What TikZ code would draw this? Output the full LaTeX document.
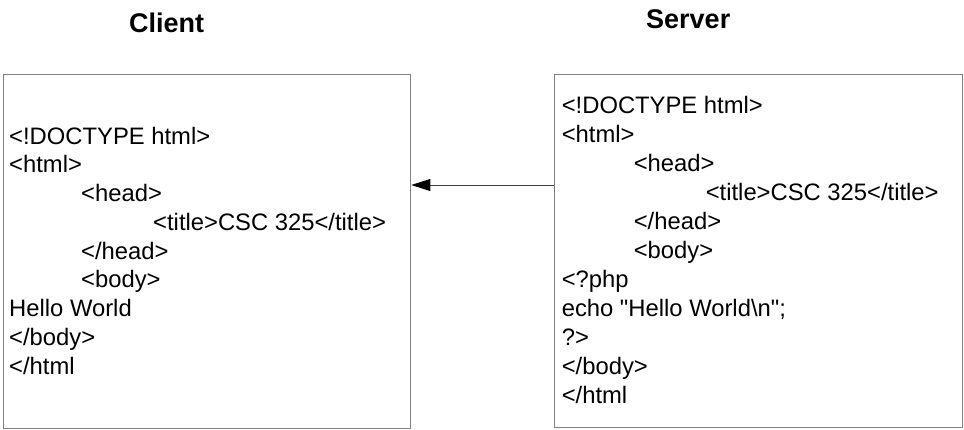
\documentclass[tikz,border=0pt]{standalone}
\usepackage{fontspec}
\setmainfont{Liberation Sans}
\setmonofont{Liberation Sans}
\usetikzlibrary{arrows.meta}
\begin{document}
\begin{tikzpicture}[x=1pt,y=-1pt,
  box/.style={draw=black!50, line width=1.3pt, inner sep=0, anchor=north west},
  code/.style={anchor=base west, inner sep=0, font=\ttfamily\fontsize{23.8}{28}\selectfont},
  ttl/.style={anchor=base west, inner sep=0, font=\fontsize{27}{30}\selectfont\bfseries},
  arr/.style={-{Triangle[length=19pt,width=12pt,color=black]}, line width=1pt, draw=black!75}]
\useasboundingbox (0,0) rectangle (964,429);
% boxes
\node[box, minimum width=407.5pt, minimum height=353.5pt] (client) at (2.5,74) {};
\node[box, minimum width=408.5pt, minimum height=353pt] (server) at (553.5,74) {};
% titles
\node[ttl] (tclient) at (129,32) {Client};
\node[ttl] (tserver) at (646,28) {Server};
% client code
\node[code] (c1) at (9,144) {<!DOCTYPE html>};
\node[code] (c2) at (9,172.75) {<html>};
\node[code] (c3) at (81,201.5) {<head>};
\node[code] (c4) at (153,230.25) {<title>CSC 325</title>};
\node[code] (c5) at (81,259) {</head>};
\node[code] (c6) at (81,287.75) {<body>};
\node[code] (c7) at (9,316.5) {Hello World};
\node[code] (c8) at (9,345.25) {</body>};
\node[code] (c9) at (9,374) {</html};
% server code
\node[code] (s1) at (561.6,113) {<!DOCTYPE html>};
\node[code] (s2) at (561.6,142) {<html>};
\node[code] (s3) at (633.6,171) {<head>};
\node[code] (s4) at (705.6,200) {<title>CSC 325</title>};
\node[code] (s5) at (633.6,229) {</head>};
\node[code] (s6) at (633.6,258) {<body>};
\node[code] (s7) at (561.6,287) {<?php};
\node[code] (s8) at (561.6,316) {echo "Hello World\textbackslash n";};
\node[code] (s9) at (561.6,345) {?>};
\node[code] (s10) at (561.6,374) {</body>};
\node[code] (s11) at (561.6,403) {</html};
% arrow
\coordinate (ay) at (0,185);
\draw[arr] (ay -| server.west) -- (ay -| client.east);
\end{tikzpicture}
\end{document}
